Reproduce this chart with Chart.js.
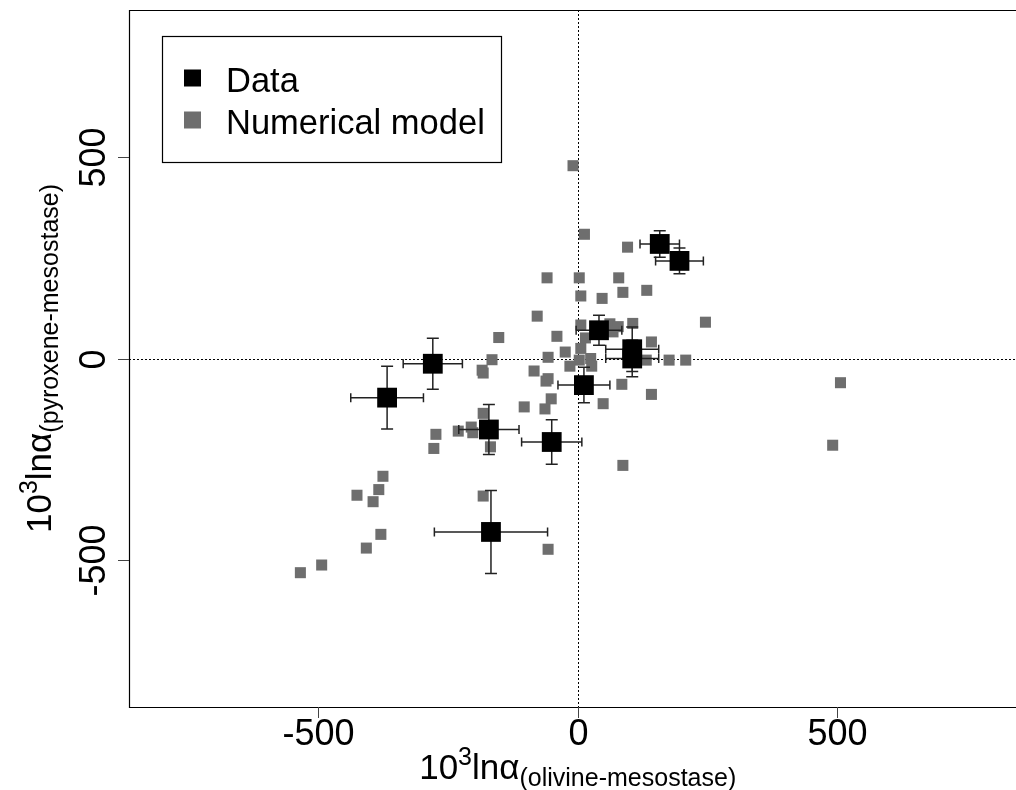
<!DOCTYPE html>
<html>
<head>
<meta charset="utf-8">
<script src="https://cdn.jsdelivr.net/npm/chart.js@4/dist/chart.umd.min.js"></script>
<style>
  body { margin: 0; background: #fff; overflow: hidden; }
</style>
</head>
<body>
<canvas id="chart" width="1016" height="790"></canvas>
<script>
// measured data with error bars
let dataX = [158, 196, 41, 105, 105, 12, -171, -50, -167, -367, -279];
let dataY = [284, 242, 70, 23, 0, -66, -176, -207, -430, -97, -13];
let dataXErr = [38, 46, 44, 51, 51, 50, 58, 58, 109, 70, 57];
let dataYErr = [33, 32, 37, 55, 45, 44, 62, 55, 103, 78, 63];

// numerical model
let modelX = [-9, 13, 96, -59, 3, 79, 6, 47, 87, 133, 246, 106, 62, 78, 68, 142, 132, 176, 208, 85,
    142, 506, 491, 6, 15, -40, 6, -24, 3, 25, 27, -15, -78, -152, -57, -165, -184, -182, -84, -57,
    -61, -51, -63, -103, 49, -182, -230, -205, -202, -168, -273, -277, -375, -383, -425, -394, -182, -379, -407, -57,
    -493, -534, 87];
let modelY = [478, 308, 276, 200, 200, 200, 155, 149, 164, 169, 90, 87, 86, 79, 66, 41, -4, -4, -4, -64,
    -89, -60, -215, 83, 51, 55, 25, 16, -4, 0, -19, -19, 105, 52, 3, -3, -29, -36, -31, -50,
    -56, -100, -125, -120, -112, -136, -180, -170, -184, -219, -188, -223, -292, -325, -339, -355, -341, -436, -470, -473,
    -512, -531, -265];

let tickValues = [-500, 0, 500];
let xTitle = ['10', '3', 'ln', 'α', '(olivine-mesostase)'];
let yTitle = ['10', '3', 'ln', 'α', '(pyroxene-mesostase)'];

const FONT = "'Liberation Sans', Arial, sans-serif";

function toPoints(xs, ys) {
    return xs.map((x, i) => ({x: x, y: ys[i]}));
}

// draws 10^3 ln alpha_(sub) style label, centred on 0
function drawMathLabel(ctx, parts) {
    let pieces = [
        {t: parts[0], size: 35, dy: 0},
        {t: parts[1], size: 25, dy: -14},
        {t: parts[2], size: 35, dy: 0},
        {t: parts[3], size: 35, dy: 0},
        {t: parts[4], size: 25, dy: 7},
    ];
    let total = 0;
    pieces.forEach(p => {
        ctx.font = p.size + 'px ' + FONT;
        p.w = ctx.measureText(p.t).width;
        total += p.w;
    });
    let x = -total / 2;
    ctx.textAlign = 'left';
    ctx.textBaseline = 'alphabetic';
    pieces.forEach(p => {
        ctx.font = p.size + 'px ' + FONT;
        ctx.fillText(p.t, x, p.dy);
        x += p.w;
    });
}

const axesPlugin = {
    id: 'axesPlugin',
    beforeDatasetsDraw(chart) {
        let ctx = chart.ctx;
        let a = chart.chartArea;
        let xs = chart.scales.x, ys = chart.scales.y;
        ctx.save();
        // dotted zero lines
        ctx.strokeStyle = '#000';
        ctx.lineWidth = 1;
        ctx.setLineDash([2, 2]);
        let x0 = Math.round(xs.getPixelForValue(0)) + 0.5;
        let y0 = Math.round(ys.getPixelForValue(0)) + 0.5;
        ctx.beginPath();
        ctx.moveTo(x0, a.top); ctx.lineTo(x0, a.bottom);
        ctx.moveTo(a.left, y0); ctx.lineTo(a.right, y0);
        ctx.stroke();
        ctx.restore();
    },
    beforeDatasetDraw(chart, args) {
        if (args.index !== 0) return;
        let ctx = chart.ctx;
        let xs = chart.scales.x, ys = chart.scales.y;
        ctx.save();
        ctx.strokeStyle = '#222';
        ctx.lineWidth = 1.5;
        dataX.forEach((v, i) => {
            let px = xs.getPixelForValue(v), py = ys.getPixelForValue(dataY[i]);
            let l = xs.getPixelForValue(v - dataXErr[i]), r = xs.getPixelForValue(v + dataXErr[i]);
            let t = ys.getPixelForValue(dataY[i] + dataYErr[i]), b = ys.getPixelForValue(dataY[i] - dataYErr[i]);
            ctx.beginPath();
            ctx.moveTo(l, py); ctx.lineTo(r, py);
            ctx.moveTo(l, py - 4.5); ctx.lineTo(l, py + 4.5);
            ctx.moveTo(r, py - 4.5); ctx.lineTo(r, py + 4.5);
            ctx.moveTo(px, t); ctx.lineTo(px, b);
            ctx.moveTo(px - 6, t); ctx.lineTo(px + 6, t);
            ctx.moveTo(px - 6, b); ctx.lineTo(px + 6, b);
            ctx.stroke();
        });
        ctx.restore();
    },
    afterDraw(chart) {
        let ctx = chart.ctx;
        let a = chart.chartArea;
        let xs = chart.scales.x, ys = chart.scales.y;
        ctx.save();
        // box (right side falls outside the picture)
        ctx.strokeStyle = '#000';
        ctx.lineWidth = 1.2;
        ctx.beginPath();
        ctx.moveTo(a.right, a.top + 0.5);
        ctx.lineTo(a.left + 0.5, a.top + 0.5);
        ctx.lineTo(a.left + 0.5, a.bottom + 0.5);
        ctx.lineTo(a.right, a.bottom + 0.5);
        ctx.stroke();

        // ticks
        ctx.strokeStyle = '#444';
        ctx.lineWidth = 1;
        ctx.fillStyle = '#000';
        ctx.font = '36px ' + FONT;
        tickValues.forEach(v => {
            let px = Math.round(xs.getPixelForValue(v)) + 0.5;
            ctx.beginPath();
            ctx.moveTo(px, a.bottom); ctx.lineTo(px, a.bottom + 11);
            ctx.stroke();
            ctx.textAlign = 'center';
            ctx.textBaseline = 'alphabetic';
            ctx.fillText(String(v), px, 745);

            let py = Math.round(ys.getPixelForValue(v)) + 0.5;
            ctx.beginPath();
            ctx.moveTo(a.left - 11, py); ctx.lineTo(a.left, py);
            ctx.stroke();
            ctx.save();
            ctx.translate(105, py);
            ctx.rotate(-Math.PI / 2);
            ctx.fillText(String(v), 0, 0);
            ctx.restore();
        });

        // axis titles
        ctx.save();
        ctx.translate(xs.getPixelForValue(0), 779);
        drawMathLabel(ctx, xTitle);
        ctx.restore();
        ctx.save();
        ctx.translate(51, ys.getPixelForValue(0));
        ctx.rotate(-Math.PI / 2);
        drawMathLabel(ctx, yTitle);
        ctx.restore();

        // legend
        ctx.lineWidth = 1.2;
        ctx.strokeStyle = '#000';
        ctx.strokeRect(162.5, 36.5, 339, 126);
        let rows = [78, 120];
        chart.data.datasets.forEach((ds, i) => {
            ctx.fillStyle = ds.backgroundColor;
            ctx.fillRect(184, rows[i] - 8.5, 17, 17);
            ctx.fillStyle = '#000';
            ctx.font = '34.5px ' + FONT;
            ctx.textAlign = 'left';
            ctx.textBaseline = 'alphabetic';
            ctx.fillText(ds.label, 226, rows[i] + 14);
        });
        ctx.restore();
    }
};

let ctx = document.getElementById('chart').getContext('2d');
let myChart = new Chart(ctx, {
    type: 'scatter',
    data: {
        datasets: [{
            label: 'Data',
            data: toPoints(dataX, dataY),
            backgroundColor: '#000000',
            borderColor: '#000000',
            pointStyle: 'rect',
            pointRadius: 14,
            borderWidth: 0,
            order: 0,
        }, {
            label: 'Numerical model',
            data: toPoints(modelX, modelY),
            backgroundColor: '#6e6e6e',
            borderColor: '#6e6e6e',
            pointStyle: 'rect',
            pointRadius: 7.8,
            borderWidth: 0,
            order: 1,
        }]
    },
    options: {
        responsive: false,
        animation: false,
        layout: {autoPadding: false, padding: {left: 129, top: 10, right: 0, bottom: 83}},
        scales: {
            x: {type: 'linear', min: -864, max: 844, display: false},
            y: {type: 'linear', min: -864, max: 864, display: false},
        },
        plugins: {
            legend: {display: false},
            tooltip: {enabled: false},
        },
    },
    plugins: [axesPlugin],
});
</script>
</body>
</html>
